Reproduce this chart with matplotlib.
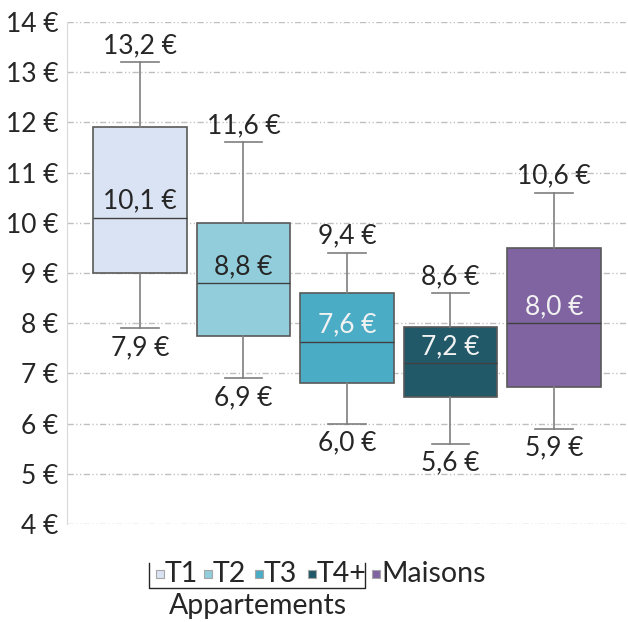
import matplotlib
matplotlib.use("Agg")
import matplotlib.pyplot as plt
from matplotlib.patches import Rectangle
from matplotlib.lines import Line2D

plt.rcParams['font.family'] = ['Lato', 'DejaVu Sans']

categories = ["T1", "T2", "T3", "T4+", "Maisons"]
mins = [7.9, 6.9, 6.0, 5.6, 5.9]
q1 = [9.0, 7.75, 6.8, 6.52, 6.72]
medians = [10.1, 8.8, 7.63, 7.2, 8.0]
q3 = [11.9, 10.0, 8.6, 7.92, 9.5]
maxs = [13.2, 11.6, 9.4, 8.6, 10.6]
colors = ["#dae3f3", "#92cddc", "#4bacc6", "#215968", "#8064a2"]
median_text_colors = ["#262626", "#262626", "#f2f2f2", "#f2f2f2", "#f2f2f2"]
yticks = [4, 5, 6, 7, 8, 9, 10, 11, 12, 13, 14]

W, H = 628, 622
fig = plt.figure(figsize=(W / 100, H / 100), dpi=100)
ax = fig.add_axes([67 / W, 1 - 524 / H, (626 - 67) / W, (524 - 22) / H])

stats = []
for i, c in enumerate(categories):
    stats.append(dict(label=c, whislo=mins[i], q1=q1[i], med=medians[i],
                      q3=q3[i], whishi=maxs[i], fliers=[]))
bp = ax.bxp(stats, positions=range(len(categories)), widths=0.9,
            patch_artist=True, showfliers=False,
            boxprops=dict(edgecolor="#595959", linewidth=1.2),
            medianprops=dict(color="#404040", linewidth=1.0),
            whiskerprops=dict(color="#7f7f7f", linewidth=1.2),
            capprops=dict(color="#7f7f7f", linewidth=1.2),
            capwidths=0.36)
for patch, col in zip(bp['boxes'], colors):
    patch.set_facecolor(col)
for i in range(len(categories)):
    bp['medians'][i].set_zorder(3)

fs = 19
for i in range(len(categories)):
    ax.annotate(f"{maxs[i]:.1f} €".replace(".", ","), (i, maxs[i]),
                xytext=(0, 3), textcoords="offset points", ha="center",
                va="bottom", fontsize=fs, color="#262626")
    ax.annotate(f"{mins[i]:.1f} €".replace(".", ","), (i, mins[i]),
                xytext=(0, -5), textcoords="offset points", ha="center",
                va="top", fontsize=fs, color="#262626")
    ax.annotate(f"{medians[i]:.1f} €".replace(".", ","), (i, medians[i]),
                xytext=(0, 3), textcoords="offset points", ha="center",
                va="bottom", fontsize=fs, color=median_text_colors[i], zorder=5)

ax.set_xlim(-0.705, 4.696)
ax.set_ylim(4, 14)
ax.set_yticks(yticks)
ax.set_yticklabels([f"{t} €" for t in yticks], fontsize=fs, color="#262626")
ax.set_xticks([])
ax.tick_params(axis='y', length=0, pad=6)
ax.yaxis.grid(True, color="#bfbfbf", linewidth=1.0, linestyle=(0, (4.5, 1.8, 0.9, 1.8, 0.9, 1.8)))
ax.set_axisbelow(True)
for s in ["top", "right", "bottom"]:
    ax.spines[s].set_visible(False)
ax.spines["left"].set_color("#d9d9d9")

# legend
lfs = 20.5
leg_y = 1 - 574 / H
sq = 8
xs_sq = [160, 208, 259, 312, 376]
for i, c in enumerate(categories):
    fig.patches.append(Rectangle(((xs_sq[i] - sq / 2) / W, leg_y - sq / 2 / H), sq / W, sq / H,
                                 transform=fig.transFigure, facecolor=colors[i],
                                 edgecolor="#a6a6a6", linewidth=0.8))
    fig.text((xs_sq[i] + 5) / W, leg_y, c, fontsize=lfs, va="center", ha="left",
             color="#262626")
# bracket for Appartements
bx0, bx1, by0, by1 = 149, 365, 563, 588
fig.add_artist(Line2D([bx0 / W, bx0 / W, bx1 / W, bx1 / W],
                      [1 - by0 / H, 1 - by1 / H, 1 - by1 / H, 1 - by0 / H],
                      transform=fig.transFigure, color="#262626", linewidth=1.0))
fig.text(258 / W, 1 - 606 / H, "Appartements", fontsize=lfs, ha="center", va="center",
         color="#262626")

fig.savefig("out.png", dpi=100)
